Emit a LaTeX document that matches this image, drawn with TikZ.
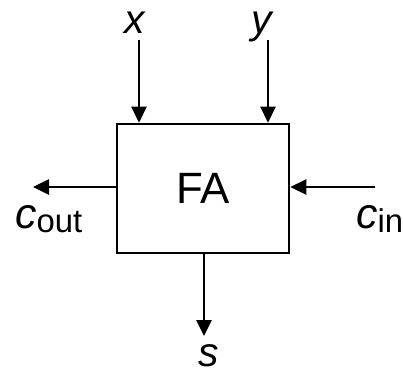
\documentclass[tikz,border=0pt]{standalone}
\usepackage{fontspec}
\setmainfont{Liberation Sans}
\usetikzlibrary{arrows.meta}
\tikzset{
  wire/.style={line width=2.6bp,-{Triangle[width=15bp,length=16bp]}},
  lbl/.style={inner sep=0pt,font=\fontsize{41}{43}\selectfont,text height=0.53em,text depth=0pt},
  blk/.style={draw,line width=2.6bp,minimum width=172bp,minimum height=129bp,inner sep=0pt,font=\fontsize{44}{46}\selectfont}
}
\newcommand{\subtxt}[1]{\raisebox{-4bp}{\fontsize{33}{35}\selectfont #1}}
\begin{document}
\begin{tikzpicture}[x=1bp,y=-1bp]
\useasboundingbox (0,0) rectangle (403,375);
\node[blk] (fa) at (203,188.5) {FA};
\node[lbl,anchor=base] (x) at (135,33) {\textit{x}};
\node[lbl,anchor=base,text depth=0.2em] (y) at (263,33) {\textit{y}};
\node[lbl,anchor=base west,text height=0.72em,text depth=5bp,font=\fontsize{43}{45}\selectfont] (cout) at (15,228) {\textit{c}\subtxt{out}};
\node[lbl,anchor=base west,text height=0.72em,text depth=5bp,font=\fontsize{43}{45}\selectfont] (cin) at (356,228) {\textit{c}\subtxt{in}};
\node[lbl,anchor=base] (s) at (209,366) {\textit{s}};
\coordinate (xs) at (139,40);
\coordinate (ys) at (268,40);
\coordinate (co) at (33,187);
\coordinate (ci) at (375,187);
\coordinate (se) at (204,336);
\draw[wire] (xs) -- (xs |- fa.north);
\draw[wire] (ys) -- (ys |- fa.north);
\draw[wire] (co -| fa.west) -- (co);
\draw[wire] (ci) -- (ci -| fa.east);
\draw[wire] (se |- fa.south) -- (se);
\end{tikzpicture}
\end{document}
